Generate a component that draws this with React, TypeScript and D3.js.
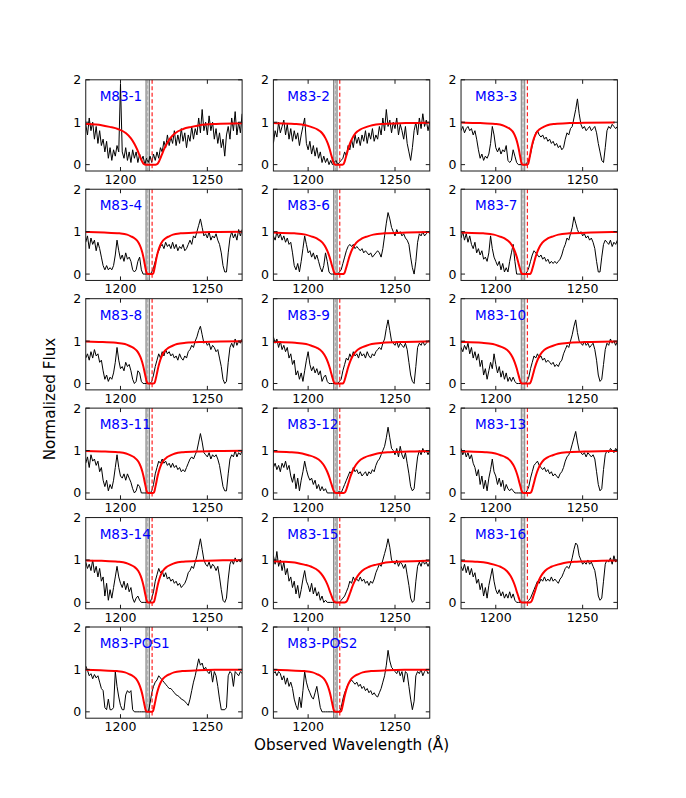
import * as d3 from "d3";

const WAVE = d3.range(1180, 1271);

const PANEL_NAMES = [
  "M83-1", "M83-2", "M83-3", "M83-4", "M83-6", "M83-7", "M83-8", "M83-9", "M83-10",
  "M83-11", "M83-12", "M83-13", "M83-14", "M83-15", "M83-16", "M83-POS1", "M83-POS2",
];

const flux_m83_1 = [
  0.95, 0.7, 1.1, 0.8, 1.0, 0.6, 0.9, 0.5, 0.8, 0.45,
  0.6, 0.3, 0.55, 0.15, 0.4, 0.1, 0.35, 0.2, 0.45, 0.3,
  1.9, 0.3, 0.15, 0.4, 0.1, 0.3, 0.05, 0.35, 0.15, 0.3,
  0.05, 0.25, 0.1, 0.2, 0.0, 0.15, 0.05, 0.2, 0.05, 0.25,
  0.1, 0.3, 0.15, 0.4, 0.3, 0.55, 0.4, 0.7, 0.45, 0.65,
  0.5, 0.8, 0.45, 0.7, 0.5, 0.85, 0.55, 0.75, 0.4, 0.7,
  0.55, 0.9, 0.6, 0.85, 0.7, 1.1, 0.75, 1.3, 0.8, 1.0,
  0.7, 1.15, 0.8, 1.0, 0.6, 0.85, 0.5, 0.75, 0.4, 0.6,
  0.2, 0.7, 0.9, 0.6, 1.1, 0.8, 1.25, 0.7, 1.0, 0.75, 1.2,
];
const flux_m83_2 = [
  0.5, 0.8, 0.65, 1.0, 0.75, 0.9, 1.05, 0.7, 0.95, 0.6,
  0.85, 0.55, 0.8, 0.6, 0.75, 0.45, 0.7, 0.9, 1.1, 0.5,
  0.35, 0.55, 0.25, 0.45, 0.2, 0.4, 0.15, 0.3, 0.05, 0.2,
  0.05, 0.15, 0.0, 0.1, 0.0, 0.05, 0.1, 0.0, 0.05, 0.1,
  0.15, 0.3, 0.2, 0.45, 0.35, 0.6, 0.4, 0.7, 0.5, 0.65,
  0.45, 0.7, 0.55, 0.8, 0.5, 0.75, 0.6, 0.85, 0.55, 0.7,
  0.6, 0.9, 0.7, 1.1, 0.8, 1.3, 0.9, 1.05, 0.75, 1.0,
  0.85, 1.1, 0.7, 0.95, 0.8, 0.6, 0.9, 0.5, 0.3, 0.1,
  0.4, 0.8, 1.0, 0.7, 1.1, 0.85, 1.2, 0.9, 1.05, 0.8, 1.0,
];
const flux_m83_3 = [
  0.8, 0.9, 0.75, 0.85, 0.9, 0.8, 0.85, 0.7, 0.8, 0.6,
  0.35, 0.15, 0.25, 0.1, 0.2, 0.15, 0.25, 0.5, 0.9, 0.7,
  0.4, 0.3, 0.4, 0.25, 0.35, 0.3, 0.45, 0.1, 0.05, 0.1,
  0.35, 0.2, 0.05, 0.0, 0.0, 0.0, 0.0, 0.0, 0.05, 0.1,
  0.25, 0.45, 0.6, 0.75, 0.8, 0.7, 0.65, 0.7, 0.6, 0.65,
  0.55, 0.6, 0.5, 0.55, 0.45, 0.5, 0.4, 0.45, 0.35, 0.4,
  0.6, 0.75, 0.7, 0.85, 0.9, 1.1, 1.3, 1.55, 1.2, 0.95,
  0.85, 0.9, 0.8, 0.85, 0.9, 0.8, 0.85, 0.9, 0.75, 0.5,
  0.3, 0.1, 0.05, 0.4, 0.8, 0.9, 0.85, 0.95, 0.9, 0.85, 0.9,
];
const flux_m83_4 = [
  0.75, 0.9, 0.6, 0.85, 0.7, 0.8, 0.55, 0.75, 0.6, 0.4,
  0.2, 0.1, 0.2, 0.1, 0.15, 0.1, 0.2, 0.45, 0.8, 0.55,
  0.35, 0.45, 0.3, 0.5, 0.35, 0.4, 0.3, 0.1, 0.05, 0.1,
  0.3, 0.4, 0.1, 0.0, 0.0, 0.0, 0.0, 0.0, 0.05, 0.15,
  0.3, 0.45, 0.55, 0.65, 0.7, 0.6, 0.75, 0.65, 0.7, 0.6,
  0.75, 0.6, 0.7, 0.55, 0.65, 0.6, 0.7, 0.55, 0.6, 0.7,
  0.8, 0.7, 0.9, 0.85, 1.0, 1.15, 1.3, 1.1, 0.9, 0.95,
  0.85, 1.0, 0.8, 0.9, 0.85, 0.95, 0.8, 0.7, 0.5, 0.2,
  0.05, 0.05, 0.5, 0.85, 1.0, 0.85, 0.95, 0.8, 1.05, 0.9, 1.05,
];
const flux_m83_6 = [
  0.9, 0.8, 1.0, 0.85, 0.95, 0.8, 0.9, 0.75, 0.85, 0.7,
  0.75, 0.5, 0.2, 0.1, 0.25, 0.05, 0.3, 0.6, 0.9, 0.7,
  0.5, 0.55, 0.4, 0.5, 0.35, 0.45, 0.3, 0.15, 0.05, 0.2,
  0.5, 0.3, 0.05, 0.0, 0.0, 0.0, 0.0, 0.0, 0.05, 0.1,
  0.25, 0.4, 0.55, 0.65, 0.7, 0.65, 0.7, 0.6, 0.65, 0.6,
  0.55, 0.6, 0.5, 0.55, 0.5, 0.45, 0.5, 0.4, 0.45, 0.5,
  0.55, 0.5, 0.4, 0.6, 0.9, 1.2, 1.45, 1.3, 1.1, 1.0,
  0.9, 1.05, 0.95, 1.0, 0.9, 0.95, 0.85, 0.8, 0.7, 0.4,
  0.15, 0.0, 0.3, 0.75, 0.95, 0.9, 1.0, 0.9, 0.95, 1.0, 0.95,
];
const flux_m83_7 = [
  0.85, 1.0, 0.8, 0.95, 0.75, 0.9, 0.7, 0.6, 0.75, 0.5,
  0.6, 0.45, 0.55, 0.35, 0.4, 0.3, 0.5, 0.9, 0.6, 0.4,
  0.3, 0.2, 0.3, 0.1, 0.25, 0.05, 0.15, 0.05, 0.3, 0.5,
  0.7, 0.3, 0.0, 0.0, 0.0, 0.0, 0.0, 0.0, 0.05, 0.15,
  0.3, 0.45, 0.55, 0.5, 0.45, 0.4, 0.45, 0.35, 0.4, 0.3,
  0.35, 0.25, 0.3, 0.25, 0.3, 0.25, 0.3, 0.35, 0.45, 0.6,
  0.7, 0.85, 0.8, 0.95, 1.1, 1.35, 1.2, 1.05, 0.95, 1.0,
  0.9, 0.95, 0.85, 0.9, 0.8, 0.85, 0.75, 0.6, 0.3, 0.05,
  0.05, 0.4, 0.7, 0.8, 0.75, 0.7, 0.8, 0.65, 0.75, 0.7, 0.8,
];
const flux_m83_8 = [
  0.6, 0.7, 0.55, 0.75, 0.6, 0.8, 0.65, 0.7, 0.5, 0.55,
  0.3, 0.1, 0.2, 0.05, 0.15, 0.1, 0.25, 0.5, 0.85, 0.55,
  0.35, 0.4, 0.3, 0.5, 0.4, 0.45, 0.3, 0.1, 0.0, 0.05,
  0.3, 0.25, 0.05, 0.0, 0.0, 0.0, 0.0, 0.0, 0.05, 0.2,
  0.4, 0.55, 0.7, 0.6, 0.75, 0.65, 0.8, 0.7, 0.75, 0.65,
  0.7, 0.6, 0.65, 0.55, 0.7, 0.6, 0.55, 0.65, 0.6, 0.75,
  0.8, 0.9, 0.85, 1.0, 1.1, 1.25, 1.35, 1.15, 0.95, 1.0,
  0.9, 0.95, 0.8, 0.9, 0.85, 0.75, 0.8, 0.6, 0.4, 0.1,
  0.0, 0.05, 0.5, 0.85, 0.95, 0.85, 1.05, 0.9, 1.0, 0.95, 1.05,
];
const flux_m83_9 = [
  1.1, 0.95, 1.05, 0.85, 1.0, 0.8, 0.9, 0.75, 0.85, 0.6,
  0.7, 0.45, 0.55, 0.2, 0.3, 0.1, 0.25, 0.05, 0.3, 0.55,
  0.75, 0.45, 0.3, 0.4, 0.25, 0.35, 0.2, 0.3, 0.05, 0.15,
  0.2, 0.05, 0.0, 0.0, 0.0, 0.0, 0.0, 0.0, 0.05, 0.1,
  0.3, 0.45, 0.6, 0.55, 0.7, 0.6, 0.75, 0.65, 0.7, 0.6,
  0.75, 0.65, 0.7, 0.6, 0.75, 0.65, 0.6, 0.7, 0.65, 0.75,
  0.8, 0.85, 0.8, 0.95, 1.05, 1.3, 1.5, 1.25, 1.0, 0.95,
  0.9, 1.0, 0.85, 0.95, 0.9, 0.85, 0.95, 0.8, 0.5, 0.2,
  0.05, 0.0, 0.4, 0.85, 0.95, 0.9, 1.0, 0.9, 0.95, 1.0, 1.0,
];
const flux_m83_10 = [
  0.85, 0.75, 0.9, 0.8, 0.95, 0.7, 0.85, 0.6, 0.75, 0.55,
  0.7, 0.4, 0.55, 0.2, 0.35, 0.1, 0.3, 0.5, 0.35, 0.7,
  0.45, 0.25, 0.4, 0.15, 0.3, 0.1, 0.25, 0.05, 0.15, 0.05,
  0.15, 0.05, 0.0, 0.0, 0.0, 0.0, 0.0, 0.0, 0.05, 0.15,
  0.35, 0.5, 0.65, 0.6, 0.7, 0.6, 0.65, 0.55, 0.6, 0.5,
  0.55, 0.5, 0.45, 0.5, 0.4, 0.45, 0.4, 0.5, 0.55, 0.7,
  0.8, 0.9, 0.85, 1.0, 1.15, 1.35, 1.5, 1.2, 1.0, 0.95,
  0.9, 1.0, 0.9, 0.95, 0.85, 0.9, 0.95, 0.8, 0.55, 0.2,
  0.05, 0.1, 0.45, 0.8, 0.95, 0.9, 1.05, 0.95, 1.0, 0.9, 1.0,
];
const flux_m83_11 = [
  0.7, 0.85, 0.6, 0.9, 0.75, 0.8, 0.65, 0.75, 0.5, 0.6,
  0.3, 0.15, 0.3, 0.05, 0.2, 0.1, 0.3, 0.6, 0.9, 0.6,
  0.4, 0.35, 0.45, 0.3, 0.45, 0.35, 0.25, 0.1, 0.0, 0.05,
  0.2, 0.15, 0.0, 0.0, 0.0, 0.0, 0.0, 0.0, 0.05, 0.2,
  0.45, 0.6, 0.75, 0.7, 0.8, 0.7, 0.75, 0.65, 0.7, 0.6,
  0.7, 0.6, 0.65, 0.55, 0.6, 0.5, 0.55, 0.5, 0.6, 0.7,
  0.8, 0.85, 0.8, 0.9, 1.0, 1.2, 1.4, 1.2, 0.95, 0.9,
  0.85, 0.95, 0.8, 0.9, 0.85, 0.9, 0.8, 0.65, 0.4, 0.15,
  0.05, 0.05, 0.45, 0.8, 0.9, 0.85, 1.0, 0.85, 0.95, 0.9, 1.0,
];
const flux_m83_12 = [
  0.6, 0.7, 0.55, 0.65, 0.5, 0.7, 0.6, 0.75, 0.55, 0.65,
  0.4, 0.25, 0.45, 0.1, 0.35, 0.05, 0.3, 0.5, 0.75, 0.55,
  0.4, 0.3, 0.35, 0.2, 0.3, 0.1, 0.2, 0.05, 0.15, 0.05,
  0.1, 0.0, 0.0, 0.0, 0.0, 0.0, 0.0, 0.0, 0.05, 0.0,
  0.1, 0.2, 0.3, 0.4, 0.5, 0.45, 0.6, 0.5, 0.55, 0.45,
  0.5, 0.4, 0.45, 0.5, 0.4, 0.5, 0.45, 0.55, 0.5, 0.65,
  0.75, 0.8, 0.9, 1.0, 1.1, 1.3, 1.55, 1.3, 1.05, 1.0,
  0.9, 1.05, 0.85, 1.1, 0.9, 0.8, 0.95, 0.7, 0.45, 0.15,
  0.05, 0.1, 0.5, 0.85, 1.0, 0.9, 1.05, 0.95, 1.0, 0.9, 1.0,
];
const flux_m83_13 = [
  1.05, 0.9, 1.0, 0.85, 0.95, 0.8, 0.9, 0.7, 0.6, 0.4,
  0.55, 0.2, 0.4, 0.1, 0.3, 0.05, 0.35, 0.55, 0.8, 0.5,
  0.4, 0.2, 0.35, 0.15, 0.3, 0.05, 0.2, 0.1, 0.05, 0.1,
  0.05, 0.0, 0.0, 0.0, 0.0, 0.0, 0.0, 0.0, 0.05, 0.15,
  0.35, 0.5, 0.65, 0.7, 0.75, 0.65, 0.6, 0.55, 0.6, 0.5,
  0.55, 0.45, 0.5, 0.4, 0.45, 0.4, 0.35, 0.45, 0.5, 0.6,
  0.75, 0.85, 0.9, 1.0, 1.15, 1.3, 1.45, 1.2, 1.0, 0.95,
  0.9, 0.95, 0.85, 0.95, 0.9, 0.85, 0.9, 0.8, 0.5, 0.2,
  0.05, 0.1, 0.55, 0.9, 1.0, 0.95, 1.05, 1.0, 0.95, 1.05, 1.0,
];
const flux_m83_14 = [
  0.95, 0.8, 0.9, 0.75, 1.0, 0.7, 0.85, 0.6, 0.8, 0.5,
  0.6, 0.15, 0.45, 0.05, 0.3, 0.1, 0.35, 0.6, 0.85, 0.6,
  0.45, 0.35, 0.5, 0.3, 0.45, 0.25, 0.35, 0.1, 0.0, 0.1,
  0.15, 0.05, 0.0, 0.0, 0.0, 0.0, 0.0, 0.0, 0.1, 0.25,
  0.5, 0.65, 0.8, 0.7, 0.75, 0.6, 0.7, 0.55, 0.6, 0.5,
  0.55, 0.45, 0.5, 0.4, 0.45, 0.35, 0.4, 0.45, 0.55, 0.7,
  0.75, 0.85, 0.8, 0.95, 1.1, 1.3, 1.5, 1.25, 1.0, 0.9,
  0.85, 0.95, 0.8, 0.9, 0.85, 0.75, 0.85, 0.6, 0.3, 0.05,
  0.0, 0.1, 0.55, 0.9, 1.0, 0.9, 1.05, 0.95, 1.0, 0.95, 1.05,
];
const flux_m83_15 = [
  1.1, 0.9, 1.2, 0.85, 1.0, 0.75, 0.95, 0.65, 0.8, 0.5,
  0.6, 0.35, 0.5, 0.2, 0.4, 0.1, 0.3, 0.55, 0.75, 0.5,
  0.4, 0.25, 0.45, 0.2, 0.35, 0.15, 0.25, 0.05, 0.15, 0.0,
  0.05, 0.0, 0.0, 0.0, 0.0, 0.0, 0.0, 0.0, 0.0, 0.05,
  0.1, 0.15, 0.25, 0.35, 0.5, 0.45, 0.6, 0.5, 0.55, 0.5,
  0.6, 0.5, 0.55, 0.45, 0.5, 0.4, 0.5, 0.45, 0.55, 0.7,
  0.8, 0.9, 0.85, 1.0, 1.15, 1.3, 1.5, 1.3, 1.0, 0.95,
  0.9, 1.0, 0.85, 0.95, 0.9, 0.8, 0.9, 0.65, 0.4, 0.1,
  0.0, 0.05, 0.5, 0.85, 0.95, 0.85, 1.0, 0.9, 0.95, 0.85, 0.95,
];
const flux_m83_16 = [
  0.85, 0.75, 0.9, 0.7, 0.85, 0.65, 0.8, 0.6, 0.7, 0.45,
  0.55, 0.3, 0.45, 0.15, 0.35, 0.1, 0.4, 0.6, 0.8, 0.5,
  0.3, 0.2, 0.3, 0.15, 0.25, 0.1, 0.2, 0.1, 0.25, 0.1,
  0.2, 0.05, 0.0, 0.0, 0.0, 0.0, 0.0, 0.0, 0.0, 0.05,
  0.1, 0.2, 0.3, 0.4, 0.5, 0.45, 0.55, 0.5, 0.6, 0.5,
  0.55, 0.5, 0.6, 0.5, 0.55, 0.5, 0.45, 0.55, 0.6, 0.7,
  0.8, 0.85, 0.8, 0.9, 1.05, 1.25, 1.4, 1.35, 1.1, 1.0,
  0.9, 0.95, 0.9, 1.0, 0.9, 0.95, 0.85, 0.75, 0.5, 0.15,
  0.05, 0.1, 0.5, 0.9, 1.0, 0.95, 1.05, 0.9, 1.1, 0.95, 1.0,
];
const flux_m83_pos1 = [
  1.08, 0.98, 0.85, 0.9, 0.78, 0.88, 0.8, 0.85, 0.7, 0.55,
  0.5, 0.1, 0.05, 0.3, 0.05, 0.05, 0.1, 0.95, 0.6, 0.35,
  0.15, 0.05, 0.05, 0.4, 0.5, 0.45, 0.5, 0.05, 0.0, 0.0,
  0.0, 0.0, 0.0, 0.0, 0.0, 0.0, 0.0, 0.2, 0.45, 0.6,
  0.7, 0.75, 0.85, 0.8, 0.75, 0.7, 0.65, 0.6, 0.55, 0.55,
  0.5, 0.45, 0.4, 0.38, 0.35, 0.3, 0.28, 0.25, 0.2, 0.15,
  0.3, 0.5, 0.7, 0.85, 1.05, 1.25, 1.1, 1.15, 1.0, 1.05,
  0.95, 0.9, 1.0, 0.7, 0.95, 0.85, 0.6, 0.3, 0.05, 0.05,
  0.05, 0.1, 0.85, 0.95, 0.9, 0.6, 0.95, 0.9, 0.85, 0.95, 0.9,
];
const flux_m83_pos2 = [
  0.9, 0.95, 0.85, 0.95, 0.9, 0.75, 0.85, 0.65, 0.8, 0.6,
  0.7, 0.55, 0.3, 0.15, 0.05, 0.35, 0.1, 0.5, 0.95, 0.7,
  0.55, 0.45, 0.35, 0.3, 0.45, 0.6, 0.35, 0.1, 0.0, 0.0,
  0.0, 0.0, 0.0, 0.0, 0.0, 0.0, 0.0, 0.0, 0.0, 0.1,
  0.3, 0.45, 0.55, 0.65, 0.7, 0.75, 0.7, 0.65, 0.7, 0.6,
  0.65, 0.55, 0.6, 0.5, 0.55, 0.45, 0.5, 0.4, 0.45, 0.38,
  0.35, 0.45, 0.55, 0.7, 0.85, 1.1, 1.45, 1.2, 1.05, 1.0,
  0.95, 0.9, 1.0, 0.85, 0.95, 0.7, 0.95, 0.9, 0.6, 0.3,
  0.05, 0.25, 0.85, 0.95, 0.9, 1.0, 0.85, 0.95, 1.0, 0.9, 0.95,
];

const SPECTRA = [
  flux_m83_1, flux_m83_2, flux_m83_3, flux_m83_4, flux_m83_6, flux_m83_7,
  flux_m83_8, flux_m83_9, flux_m83_10, flux_m83_11, flux_m83_12, flux_m83_13,
  flux_m83_14, flux_m83_15, flux_m83_16, flux_m83_pos1, flux_m83_pos2,
];

// damped Lya fit read per panel: centre and half width at half depth (Å)
const FIT_CENTER = [
  1217.3, 1217.7, 1216.8, 1217.0, 1218.0, 1217.5, 1217.5, 1217.7, 1217.2,
  1217.3, 1218.2, 1217.8, 1217.3, 1218.5, 1217.3, 1216.7, 1217.0,
];
const FIT_HALFWIDTH = [
  9.4, 6.4, 4.3, 4.4, 6.5, 6.2, 5.0, 6.3, 6.3,
  4.7, 7.2, 6.0, 4.7, 8.3, 7.3, 4.7, 4.8,
];
// shape of the profile, offset in half widths vs. normalised flux
const PROFILE_OFFSET = [
  -12, -8, -6, -4, -3, -2.5, -2, -1.5, -1.2, -1, -0.8, -0.7, -0.6, -0.5, -0.4, -0.3,
  0.3, 0.4, 0.5, 0.6, 0.7, 0.8, 1, 1.2, 1.5, 2, 2.5, 3, 4, 6, 8, 12,
];
const PROFILE_FLUX = [
  0.995, 0.99, 0.98, 0.96, 0.93, 0.89, 0.84, 0.74, 0.62, 0.5, 0.34, 0.24, 0.15, 0.06, 0.01, 0,
  0, 0.01, 0.06, 0.15, 0.24, 0.34, 0.5, 0.62, 0.74, 0.84, 0.89, 0.93, 0.96, 0.98, 0.99, 0.995,
];

const LYA_BAND = [1214.67, 1216.67];
const LYA_REST = 1215.67;
const LYA_M83 = 1218.2;
const X_DOMAIN = [1180, 1270];
const Y_DOMAIN = [-0.15, 2];
const X_TICKS = [1200, 1250];
const Y_TICKS = [0, 1, 2];

const W = 686;
const H = 798;
const FONT = "'DejaVu Sans', sans-serif";

const colScale = d3.scaleBand<number>().domain([0, 1, 2]).range([85.75, 617.4]).paddingInner(1 / 6);
const rowScale = d3.scaleBand<number>().domain([0, 1, 2, 3, 4, 5]).range([79.8, 718.2]).paddingInner(1 / 6);

function Panel({ idx }: { idx: number }) {
  const x0 = colScale(idx % 3)!;
  const y0 = rowScale(Math.floor(idx / 3))!;
  const w = colScale.bandwidth();
  const h = rowScale.bandwidth();
  const x = d3.scaleLinear().domain(X_DOMAIN).range([x0, x0 + w]);
  const y = d3.scaleLinear().domain(Y_DOMAIN).range([y0 + h, y0]);

  const spec = d3.line<number>().x((_, i) => x(WAVE[i])).y((d) => y(d));
  const c = FIT_CENTER[idx];
  const hw = FIT_HALFWIDTH[idx];
  const fit = d3
    .line<number>()
    .x((o) => x(c + o * hw))
    .y((_, i) => y(PROFILE_FLUX[i]))
    .curve(d3.curveMonotoneX);
  const clip = `clip-${idx}`;
  const tk = 4;

  return (
    <g>
      <defs>
        <clipPath id={clip}>
          <rect x={x0} y={y0} width={w} height={h} />
        </clipPath>
      </defs>
      <g clipPath={`url(#${clip})`}>
        <rect x={x(LYA_BAND[0])} y={y0} width={x(LYA_BAND[1]) - x(LYA_BAND[0])} height={h} fill="#d4d4d4" />
        <line x1={x(LYA_BAND[0])} x2={x(LYA_BAND[0])} y1={y0} y2={y0 + h} stroke="#7a7a7a" strokeWidth={1} />
        <line x1={x(LYA_BAND[1])} x2={x(LYA_BAND[1])} y1={y0} y2={y0 + h} stroke="#7a7a7a" strokeWidth={1} />
        <path d={spec(SPECTRA[idx]) ?? ""} fill="none" stroke="#000" strokeWidth={1} strokeLinejoin="round" />
        <line x1={x(LYA_REST)} x2={x(LYA_REST)} y1={y0} y2={y0 + h} stroke="#a8a8a8" strokeWidth={1} strokeDasharray="3.5,2" />
        <line x1={x(LYA_M83)} x2={x(LYA_M83)} y1={y0} y2={y0 + h} stroke="#ff2020" strokeWidth={1.2} strokeDasharray="4,2.5" />
        <path d={fit(PROFILE_OFFSET) ?? ""} fill="none" stroke="#ff0000" strokeWidth={2} />
      </g>
      <rect x={x0} y={y0} width={w} height={h} fill="none" stroke="#1a1a1a" strokeWidth={1} />
      {X_TICKS.map((t) => (
        <g key={`x${t}`}>
          <line x1={x(t)} x2={x(t)} y1={y0 + h} y2={y0 + h - tk} stroke="#1a1a1a" />
          <line x1={x(t)} x2={x(t)} y1={y0} y2={y0 + tk} stroke="#1a1a1a" />
          <text x={x(t)} y={y0 + h + 12.8} textAnchor="middle" fontSize={12.5} fontFamily={FONT} fill="#000">
            {t}
          </text>
        </g>
      ))}
      {Y_TICKS.map((t) => (
        <g key={`y${t}`}>
          <line x1={x0} x2={x0 + tk} y1={y(t)} y2={y(t)} stroke="#1a1a1a" />
          <line x1={x0 + w} x2={x0 + w - tk} y1={y(t)} y2={y(t)} stroke="#1a1a1a" />
          <text x={x0 - 4.5} y={y(t) + 4.5} textAnchor="end" fontSize={12.5} fontFamily={FONT} fill="#000">
            {t}
          </text>
        </g>
      ))}
      <text x={x(1188)} y={y(1.5)} fontSize={13.6} fontFamily={FONT} fill="#0000ff">
        {PANEL_NAMES[idx]}
      </text>
    </g>
  );
}

export default function App() {
  return (
    <svg
      width={W}
      height={H}
      viewBox={`0 0 ${W} ${H}`}
      style={{ position: "absolute", left: 0, top: 0, background: "#fff" }}
    >
      <rect width={W} height={H} fill="#fff" />
      {PANEL_NAMES.map((_, i) => (
        <Panel key={i} idx={i} />
      ))}
      <text
        transform={`translate(55,399) rotate(-90)`}
        textAnchor="middle"
        fontSize={15.2}
        fontFamily={FONT}
        fill="#000"
      >
        Normalized Flux
      </text>
      <text x={351.6} y={750} textAnchor="middle" fontSize={15.2} fontFamily={FONT} fill="#000">
        Observed Wavelength (Å)
      </text>
    </svg>
  );
}
